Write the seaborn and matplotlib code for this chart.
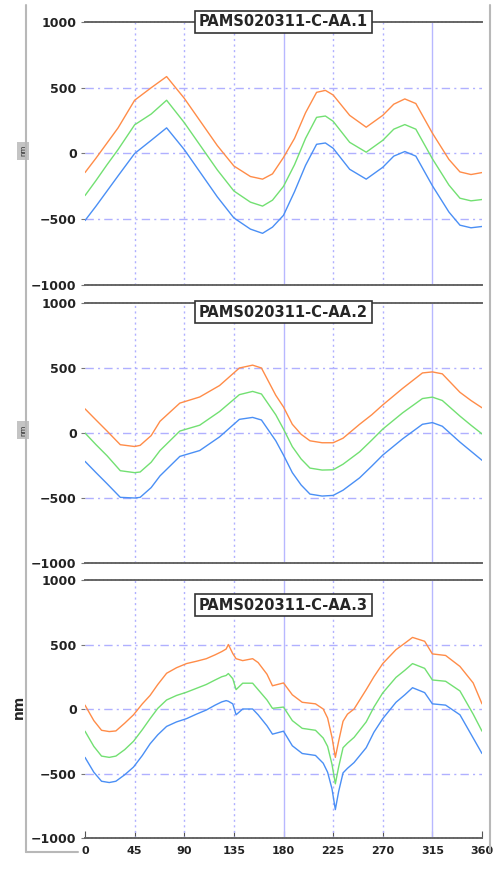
import matplotlib
matplotlib.use('Agg')
import matplotlib.pyplot as plt
from matplotlib.lines import Line2D
import pandas as pd
import seaborn as sns

# angle (deg) and the three traces of each panel
ang1 = [0, 10, 20, 30, 45, 60, 74, 90, 100, 110, 120, 135, 150, 161, 170, 180,
        190, 200, 210, 218, 225, 240, 255, 270, 280, 290, 300, 315, 330, 340, 350, 360]
blue1 = [-510, -400, -285, -170, 0, 100, 195, 30, -90, -210, -330, -490, -575, -607, -560, -470,
         -290, -90, 70, 80, 40, -120, -195, -105, -20, 15, -20, -245, -445, -545, -565, -555]
green1 = [-320, -205, -85, 30, 218, 300, 405, 235, 115, -5, -125, -285, -370, -400, -355, -250,
          -85, 115, 275, 285, 245, 85, 10, 100, 185, 220, 185, -40, -240, -340, -360, -350]
orange1 = [-145, -35, 80, 195, 405, 500, 585, 420, 300, 180, 60, -95, -175, -195, -155, -30,
           115, 310, 465, 480, 445, 290, 200, 290, 375, 415, 380, 155, -45, -140, -160, -145]

ang2 = [0, 10, 20, 32, 45, 50, 60, 68, 86, 104, 122, 140, 152, 160, 173, 180,
        188, 196, 204, 215, 225, 234, 249, 260, 270, 288, 306, 315, 324, 340, 350, 360]
blue2 = [-218, -305, -390, -495, -500, -495, -420, -330, -180, -135, -30, 105, 120, 100, -60, -170,
         -305, -400, -470, -485, -480, -440, -345, -255, -170, -45, 67, 80, 52, -70, -140, -210]
green2 = [0, -90, -175, -290, -305, -300, -225, -135, 15, 60, 165, 295, 320, 300, 140, 30,
          -105, -200, -270, -285, -283, -240, -145, -55, 30, 155, 265, 276, 250, 130, 60, -7]
orange2 = [186, 100, 15, -90, -104, -95, -20, 90, 230, 277, 365, 500, 522, 500, 290, 200,
           67, -10, -60, -75, -75, -40, 67, 140, 216, 343, 462, 470, 455, 313, 250, 194]

ang3 = [0, 8, 15, 22, 28, 36, 44, 52, 59, 66, 74, 83, 92, 101, 110, 118, 124, 128, 130, 134,
        137, 143, 152, 157, 165, 170, 180, 188, 197, 209, 216, 220, 224, 227, 230, 234, 238, 244,
        255, 262, 270, 282, 290, 297, 308, 315, 327, 340, 352, 360]
blue3 = [-375, -490, -560, -570, -560, -510, -450, -360, -270, -200, -135, -100, -75, -40, -8, 30,
         55, 65, 60, 40, -45, 0, 0, -45, -130, -195, -172, -285, -345, -360, -420, -490, -620, -780,
         -640, -495, -460, -415, -300, -180, -75, 52, 110, 165, 127, 40, 30, -45, -225, -345]
green3 = [-172, -290, -365, -375, -365, -315, -250, -160, -75, 5, 70, 105, 130, 160, 190, 225,
          250, 260, 275, 235, 150, 200, 200, 150, 70, 5, 15, -90, -150, -165, -225, -290, -430, -580,
          -450, -300, -265, -220, -100, 15, 125, 245, 300, 352, 315, 225, 215, 140, -40, -172]
orange3 = [30, -90, -165, -175, -170, -110, -45, 40, 105, 190, 277, 320, 352, 370, 390, 420,
           445, 465, 500, 430, 390, 375, 390, 360, 270, 180, 202, 110, 52, 40, 0, -70, -220, -375,
           -250, -95, -40, 0, 150, 250, 352, 460, 510, 555, 525, 427, 415, 330, 202, 40]

titles = ["PAMS020311-C-AA.1", "PAMS020311-C-AA.2", "PAMS020311-C-AA.3"]
xticks = [0, 45, 90, 135, 180, 225, 270, 315, 360]
yticks = [-1000, -500, 0, 500, 1000]

panels = [(ang1, blue1, green1, orange1), (ang2, blue2, green2, orange2), (ang3, blue3, green3, orange3)]
palette = {"blue": "#4a8ff5", "green": "#72e072", "orange": "#ff8c48"}

sns.set_style("white")
plt.rcParams['font.family'] = ['DejaVu Sans']

W, H = 493, 871
fig = plt.figure(figsize=(W / 100, H / 100), dpi=100)

# axes boxes in pixels: (top, bottom)
boxes = [(22, 285), (303, 563), (580, 838)]
left, right = 85, 482
title_y = [1.0, 0.965, 0.903]

# grey outer frame
frame_col = "#b8b8b8"
fig.add_artist(Line2D([26 / W, 26 / W], [1 - 5 / H, 1 - 852 / H], color=frame_col, lw=1.5))
fig.add_artist(Line2D([26 / W, 78 / W], [1 - 852 / H, 1 - 852 / H], color=frame_col, lw=1.5))
fig.add_artist(Line2D([490 / W, 490 / W], [1 - 5 / H, 1 - 852 / H], color=frame_col, lw=1.5))

for i, ((ang, b, g, o), (top, bot)) in enumerate(zip(panels, boxes)):
    ax = fig.add_axes([left / W, 1 - bot / H, (right - left) / W, (bot - top) / H])
    df = pd.concat([
        pd.DataFrame({"angle": ang, "value": o, "trace": "orange"}),
        pd.DataFrame({"angle": ang, "value": g, "trace": "green"}),
        pd.DataFrame({"angle": ang, "value": b, "trace": "blue"}),
    ])
    sns.lineplot(data=df, x="angle", y="value", hue="trace", palette=palette,
                 estimator=None, sort=False, lw=1.0, legend=False, ax=ax, zorder=3)

    ax.set_xlim(0, 360)
    ax.set_ylim(-1000, 1000)
    ax.set_xticks(xticks)
    ax.set_yticks(yticks)

    # grid
    for xv in [45, 90, 135, 225, 270]:
        ax.axvline(xv, color="#b0b0ff", lw=1.0, ls=(0, (1.5, 2.5)), zorder=1)
    for xv in [180, 315]:
        ax.axvline(xv, color="#b8b8ff", lw=1.0, zorder=1)
    for yv in [-500, 0, 500]:
        ax.axhline(yv, color="#b0b0ff", lw=1.0, ls=(0, (6, 3, 1.5, 3)), zorder=1)

    for s in ["left", "right"]:
        ax.spines[s].set_visible(False)
    for s in ["top", "bottom"]:
        ax.spines[s].set_color("#666666")
        ax.spines[s].set_linewidth(1.4)
        ax.spines[s].set_linestyle((0, (1.2, 0.8)))

    ax.tick_params(axis="y", direction="out", length=3, width=0.8, color="#777777",
                   pad=3, labelsize=9, left=True)
    for t in ax.get_yticklabels():
        t.set_fontweight("bold")
        t.set_color("#222222")
    ax.set_xlabel("")

    if i < 2:
        ax.tick_params(axis="x", bottom=False, labelbottom=False)
        ax.set_ylabel("nm", fontsize=5, rotation=90,
                      bbox=dict(facecolor="#c4c4c4", edgecolor="none", pad=2.5))
    else:
        ax.tick_params(axis="x", direction="in", length=5, width=0.8, color="#555555",
                       pad=6, labelsize=8, bottom=True)
        for t in ax.get_xticklabels():
            t.set_fontweight("bold")
            t.set_color("#222222")
        ax.set_ylabel("nm", fontsize=10, fontweight="bold", rotation=90)
    ax.yaxis.set_label_coords((26 - left) / (right - left), 0.51)

    ax.text(0.5, title_y[i], titles[i], transform=ax.transAxes, ha="center", va="center",
            fontsize=10.5, fontweight="bold", zorder=5,
            bbox=dict(boxstyle="square,pad=0.25", facecolor="white", edgecolor="#333333", lw=1.2))

fig.savefig("out.png", dpi=100)
